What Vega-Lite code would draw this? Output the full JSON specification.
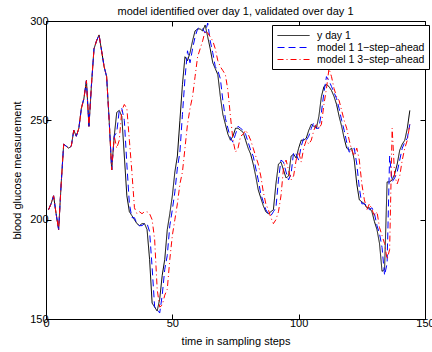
{
  "$schema": "https://vega.github.io/schema/vega-lite/v6.json",
  "width": 379,
  "height": 298,
  "autosize": "none",
  "padding": {"left": 46, "top": 21, "right": 7, "bottom": 33},
  "background": "white",
  "config": {
    "font": "Liberation Sans",
    "view": {"stroke": "black", "strokeWidth": 1},
    "axis": {
      "domain": false,
      "grid": false,
      "tickColor": "black",
      "tickSize": -5,
      "tickWidth": 1,
      "labelColor": "black",
      "labelFont": "Liberation Sans",
      "labelFontSize": 11,
      "titleFont": "Liberation Sans",
      "titleFontSize": 11,
      "titleFontWeight": "normal",
      "titleColor": "black"
    },
    "legend": {
      "labelFont": "Liberation Sans",
      "labelFontSize": 10.5,
      "labelColor": "black"
    }
  },
  "title": {
    "text": "model identified over day 1, validated over day 1",
    "fontSize": 11,
    "fontWeight": "normal",
    "font": "Liberation Sans",
    "color": "black",
    "anchor": "middle",
    "offset": -2
  },
  "datasets": {
    "yday": [
      {"t":1,"v":205},{"t":2,"v":208},{"t":3,"v":212},{"t":4,"v":203},{"t":5,"v":195},{"t":6,"v":218},{"t":7,"v":238},{"t":8,"v":237},{"t":9,"v":236},{"t":10,"v":237},
      {"t":11,"v":245},{"t":12,"v":242},{"t":13,"v":246},{"t":14,"v":256},{"t":15,"v":261},{"t":16,"v":270},{"t":17,"v":247},{"t":18,"v":268},{"t":19,"v":286},{"t":20,"v":290},
      {"t":21,"v":293},{"t":22,"v":285},{"t":23,"v":277},{"t":24,"v":272},{"t":25,"v":250},{"t":26,"v":225},{"t":27,"v":242},{"t":28,"v":254},{"t":29,"v":255},{"t":30,"v":252},
      {"t":31,"v":232},{"t":32,"v":212},{"t":33,"v":204},{"t":34,"v":202},{"t":35,"v":200},{"t":36,"v":198},{"t":37,"v":197},{"t":38,"v":198},{"t":39,"v":198},{"t":40,"v":195},
      {"t":41,"v":180},{"t":42,"v":158},{"t":43,"v":156},{"t":44,"v":154},{"t":45,"v":160},{"t":46,"v":172},{"t":47,"v":180},{"t":48,"v":195},{"t":49,"v":203},{"t":50,"v":212},
      {"t":51,"v":224},{"t":52,"v":232},{"t":53,"v":250},{"t":54,"v":268},{"t":55,"v":282},{"t":56,"v":280},{"t":57,"v":284},{"t":58,"v":290},{"t":59,"v":295},{"t":60,"v":296},
      {"t":61,"v":296},{"t":62,"v":295},{"t":63,"v":298},{"t":64,"v":292},{"t":65,"v":286},{"t":66,"v":279},{"t":67,"v":276},{"t":68,"v":273},{"t":69,"v":262},{"t":70,"v":253},
      {"t":71,"v":248},{"t":72,"v":243},{"t":73,"v":240},{"t":74,"v":242},{"t":75,"v":246},{"t":76,"v":246},{"t":77,"v":245},{"t":78,"v":244},{"t":79,"v":240},{"t":80,"v":236},
      {"t":81,"v":233},{"t":82,"v":228},{"t":83,"v":222},{"t":84,"v":215},{"t":85,"v":211},{"t":86,"v":207},{"t":87,"v":204},{"t":88,"v":203},{"t":89,"v":204},{"t":90,"v":205},
      {"t":91,"v":218},{"t":92,"v":228},{"t":93,"v":229},{"t":94,"v":225},{"t":95,"v":221},{"t":96,"v":222},{"t":97,"v":232},{"t":98,"v":233},{"t":99,"v":231},{"t":100,"v":236},
      {"t":101,"v":240},{"t":102,"v":240},{"t":103,"v":241},{"t":104,"v":245},{"t":105,"v":248},{"t":106,"v":247},{"t":107,"v":246},{"t":108,"v":252},{"t":109,"v":262},{"t":110,"v":267},
      {"t":111,"v":268},{"t":112,"v":267},{"t":113,"v":265},{"t":114,"v":262},{"t":115,"v":258},{"t":116,"v":252},{"t":117,"v":247},{"t":118,"v":241},{"t":119,"v":236},{"t":120,"v":235},
      {"t":121,"v":236},{"t":122,"v":230},{"t":123,"v":218},{"t":124,"v":210},{"t":125,"v":209},{"t":126,"v":208},{"t":127,"v":206},{"t":128,"v":206},{"t":129,"v":204},{"t":130,"v":199},
      {"t":131,"v":195},{"t":132,"v":188},{"t":133,"v":174},{"t":134,"v":175},{"t":135,"v":219},{"t":136,"v":219},{"t":137,"v":220},{"t":138,"v":223},{"t":139,"v":228},{"t":140,"v":235},
      {"t":141,"v":238},{"t":142,"v":240},{"t":143,"v":246},{"t":144,"v":255}
    ],
    "m1": [
      {"t":1,"v":205},{"t":2,"v":208},{"t":3,"v":212},{"t":4,"v":203},{"t":5,"v":195},{"t":6,"v":218},{"t":7,"v":238},{"t":8,"v":237},{"t":9,"v":236},{"t":10,"v":237},
      {"t":11,"v":245},{"t":12,"v":242},{"t":13,"v":246},{"t":14,"v":256},{"t":15,"v":261},{"t":16,"v":270},{"t":17,"v":247},{"t":18,"v":268},{"t":19,"v":286},{"t":20,"v":290},
      {"t":21,"v":293},{"t":22,"v":285},{"t":23,"v":277},{"t":24,"v":272},{"t":25,"v":250},{"t":26,"v":225},{"t":27,"v":242},{"t":28,"v":244},{"t":29,"v":255},{"t":30,"v":256},
      {"t":31,"v":250},{"t":32,"v":228},{"t":33,"v":208},{"t":34,"v":201},{"t":35,"v":201},{"t":36,"v":198},{"t":37,"v":197},{"t":38,"v":197},{"t":39,"v":198},{"t":40,"v":198},
      {"t":41,"v":194},{"t":42,"v":176},{"t":43,"v":156},{"t":44,"v":155},{"t":45,"v":153},{"t":46,"v":162},{"t":47,"v":175},{"t":48,"v":182},{"t":49,"v":197},{"t":50,"v":205},
      {"t":51,"v":214},{"t":52,"v":226},{"t":53,"v":234},{"t":54,"v":253},{"t":55,"v":271},{"t":56,"v":285},{"t":57,"v":279},{"t":58,"v":286},{"t":59,"v":292},{"t":60,"v":296},
      {"t":61,"v":297},{"t":62,"v":296},{"t":63,"v":294},{"t":64,"v":299},{"t":65,"v":290},{"t":66,"v":284},{"t":67,"v":277},{"t":68,"v":275},{"t":69,"v":271},{"t":70,"v":260},
      {"t":71,"v":251},{"t":72,"v":246},{"t":73,"v":241},{"t":74,"v":239},{"t":75,"v":243},{"t":76,"v":247},{"t":77,"v":246},{"t":78,"v":245},{"t":79,"v":243},{"t":80,"v":239},
      {"t":81,"v":235},{"t":82,"v":232},{"t":83,"v":226},{"t":84,"v":220},{"t":85,"v":213},{"t":86,"v":209},{"t":87,"v":205},{"t":88,"v":203},{"t":89,"v":202},{"t":90,"v":204},
      {"t":91,"v":206},{"t":92,"v":220},{"t":93,"v":230},{"t":94,"v":229},{"t":95,"v":224},{"t":96,"v":220},{"t":97,"v":223},{"t":98,"v":234},{"t":99,"v":233},{"t":100,"v":230},
      {"t":101,"v":237},{"t":102,"v":241},{"t":103,"v":240},{"t":104,"v":242},{"t":105,"v":246},{"t":106,"v":249},{"t":107,"v":246},{"t":108,"v":246},{"t":109,"v":254},{"t":110,"v":264},
      {"t":111,"v":272},{"t":112,"v":270},{"t":113,"v":267},{"t":114,"v":264},{"t":115,"v":261},{"t":116,"v":256},{"t":117,"v":250},{"t":118,"v":245},{"t":119,"v":239},{"t":120,"v":234},
      {"t":121,"v":235},{"t":122,"v":236},{"t":123,"v":228},{"t":124,"v":216},{"t":125,"v":208},{"t":126,"v":208},{"t":127,"v":207},{"t":128,"v":205},{"t":129,"v":206},{"t":130,"v":203},
      {"t":131,"v":197},{"t":132,"v":193},{"t":133,"v":186},{"t":134,"v":172},{"t":135,"v":178},{"t":136,"v":232},{"t":137,"v":219},{"t":138,"v":221},{"t":139,"v":224},{"t":140,"v":230},
      {"t":141,"v":236},{"t":142,"v":239},{"t":143,"v":241},{"t":144,"v":248}
    ],
    "m3": [
      {"t":1,"v":205},{"t":2,"v":208},{"t":3,"v":212},{"t":4,"v":203},{"t":5,"v":195},{"t":6,"v":218},{"t":7,"v":238},{"t":8,"v":237},{"t":9,"v":236},{"t":10,"v":237},
      {"t":11,"v":245},{"t":12,"v":242},{"t":13,"v":246},{"t":14,"v":256},{"t":15,"v":261},{"t":16,"v":270},{"t":17,"v":247},{"t":18,"v":268},{"t":19,"v":286},{"t":20,"v":290},
      {"t":21,"v":293},{"t":22,"v":285},{"t":23,"v":277},{"t":24,"v":272},{"t":25,"v":250},{"t":26,"v":225},{"t":27,"v":242},{"t":28,"v":236},{"t":29,"v":240},{"t":30,"v":255},
      {"t":31,"v":258},{"t":32,"v":256},{"t":33,"v":240},{"t":34,"v":224},{"t":35,"v":206},{"t":36,"v":203},{"t":37,"v":204},{"t":38,"v":203},{"t":39,"v":204},{"t":40,"v":204},
      {"t":41,"v":203},{"t":42,"v":200},{"t":43,"v":190},{"t":44,"v":165},{"t":45,"v":156},{"t":46,"v":157},{"t":47,"v":162},{"t":48,"v":165},{"t":49,"v":180},{"t":50,"v":192},
      {"t":51,"v":200},{"t":52,"v":208},{"t":53,"v":218},{"t":54,"v":224},{"t":55,"v":236},{"t":56,"v":248},{"t":57,"v":256},{"t":58,"v":262},{"t":59,"v":272},{"t":60,"v":282},
      {"t":61,"v":286},{"t":62,"v":290},{"t":63,"v":295},{"t":64,"v":294},{"t":65,"v":292},{"t":66,"v":290},{"t":67,"v":286},{"t":68,"v":280},{"t":69,"v":277},{"t":70,"v":275},
      {"t":71,"v":273},{"t":72,"v":265},{"t":73,"v":252},{"t":74,"v":240},{"t":75,"v":234},{"t":76,"v":236},{"t":77,"v":242},{"t":78,"v":243},{"t":79,"v":245},{"t":80,"v":243},
      {"t":81,"v":240},{"t":82,"v":236},{"t":83,"v":232},{"t":84,"v":228},{"t":85,"v":222},{"t":86,"v":214},{"t":87,"v":208},{"t":88,"v":205},{"t":89,"v":201},{"t":90,"v":198},
      {"t":91,"v":200},{"t":92,"v":204},{"t":93,"v":212},{"t":94,"v":226},{"t":95,"v":230},{"t":96,"v":225},{"t":97,"v":220},{"t":98,"v":222},{"t":99,"v":230},{"t":100,"v":234},
      {"t":101,"v":229},{"t":102,"v":236},{"t":103,"v":240},{"t":104,"v":238},{"t":105,"v":240},{"t":106,"v":245},{"t":107,"v":248},{"t":108,"v":246},{"t":109,"v":248},{"t":110,"v":258},
      {"t":111,"v":266},{"t":112,"v":276},{"t":113,"v":272},{"t":114,"v":266},{"t":115,"v":262},{"t":116,"v":260},{"t":117,"v":255},{"t":118,"v":250},{"t":119,"v":246},{"t":120,"v":240},
      {"t":121,"v":235},{"t":122,"v":232},{"t":123,"v":236},{"t":124,"v":230},{"t":125,"v":218},{"t":126,"v":210},{"t":127,"v":205},{"t":128,"v":208},{"t":129,"v":205},{"t":130,"v":202},
      {"t":131,"v":204},{"t":132,"v":196},{"t":133,"v":192},{"t":134,"v":188},{"t":135,"v":180},{"t":136,"v":185},{"t":137,"v":246},{"t":138,"v":222},{"t":139,"v":218},{"t":140,"v":222},
      {"t":141,"v":230},{"t":142,"v":236},{"t":143,"v":240},{"t":144,"v":248}
    ]
  },
  "resolve": {"axis": {"x": "independent", "y": "independent"}},
  "layer": [
    {
      "data": {"name": "yday"},
      "mark": {"type": "line", "strokeWidth": 1, "clip": true},
      "encoding": {
        "x": {"field": "t", "type": "quantitative", "scale": {"domain": [0, 150], "nice": false},
              "axis": {"orient": "bottom", "values": [0, 50, 100, 150], "title": "time in sampling steps", "labelPadding": 3, "titlePadding": 7, "labelFlush": false}},
        "y": {"field": "v", "type": "quantitative", "scale": {"domain": [150, 300], "nice": false, "zero": false},
              "axis": {"orient": "left", "values": [150, 200, 250, 300], "title": "blood glucose measurement", "labelPadding": 3, "titlePadding": 7, "labelFlush": false}},
        "color": {"datum": "y day 1", "type": "nominal",
                  "scale": {"domain": ["y day 1", "model 1 1−step−ahead", "model 1 3−step−ahead"], "range": ["#000000", "#0000ff", "#ff0000"]},
                  "legend": {"orient": "none", "legendX": 226, "legendY": 4, "title": null, "strokeColor": "black", "fillColor": "white", "padding": 4,
                             "symbolType": "M-0.83,0H4.5", "symbolSize": 144, "symbolStrokeWidth": 1, "labelOffset": 28, "rowPadding": 0}},
        "strokeDash": {"datum": "y day 1", "type": "nominal",
                  "scale": {"domain": ["y day 1", "model 1 1−step−ahead", "model 1 3−step−ahead"], "range": [[1, 0], [7, 4], [6, 3, 1, 3]]},
                  "legend": {"orient": "none", "legendX": 226, "legendY": 4, "title": null, "strokeColor": "black", "fillColor": "white", "padding": 4,
                             "symbolType": "M-0.83,0H4.5", "symbolSize": 144, "symbolStrokeWidth": 1, "labelOffset": 28, "rowPadding": 0}}
      }
    },
    {
      "data": {"name": "m1"},
      "mark": {"type": "line", "strokeWidth": 1, "clip": true},
      "encoding": {
        "x": {"field": "t", "type": "quantitative", "axis": null},
        "y": {"field": "v", "type": "quantitative", "axis": null},
        "color": {"datum": "model 1 1−step−ahead", "type": "nominal"},
        "strokeDash": {"datum": "model 1 1−step−ahead", "type": "nominal"}
      }
    },
    {
      "data": {"name": "m3"},
      "mark": {"type": "line", "strokeWidth": 1, "clip": true},
      "encoding": {
        "x": {"field": "t", "type": "quantitative",
              "axis": {"orient": "top", "values": [0, 50, 100, 150], "labels": false, "title": null}},
        "y": {"field": "v", "type": "quantitative",
              "axis": {"orient": "right", "values": [150, 200, 250, 300], "labels": false, "title": null}},
        "color": {"datum": "model 1 3−step−ahead", "type": "nominal"},
        "strokeDash": {"datum": "model 1 3−step−ahead", "type": "nominal"}
      }
    }
  ]
}
